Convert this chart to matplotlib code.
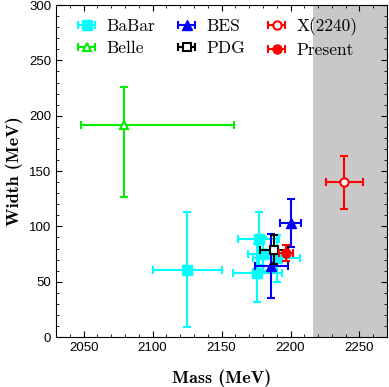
import numpy as np
import matplotlib
matplotlib.use("Agg")
import matplotlib.pyplot as plt

# BaBar
babar_mass = [2125, 2177, 2176, 2180, 2190]
babar_mass_err = [25, 15, 18, 11, 17]
babar_width = [61, 89, 58, 75, 71]
babar_width_err = [52, 24, 26, 15, 21]

# Belle (asymmetric errors)
belle_mass = [2079]
belle_mass_err = [[31], [80]]
belle_width = [192]
belle_width_err = [[65], [34]]

# BES
bes_mass = [2186, 2200]
bes_mass_err = [12, 7.5]
bes_width = [64, 103]
bes_width_err = [29, 22]

# PDG
pdg_mass = [2188]
pdg_mass_err = [10]
pdg_width = [79]
pdg_width_err = [13]

# Present
present_mass = [2197]
present_mass_err = [5]
present_width = [76]
present_width_err = [7]

# X(2240)
x_mass = [2239]
x_mass_err = [13.5]
x_width = [140]
x_width_err = [24]

band_start = 2216

fig = plt.figure(figsize=(3.89, 3.87), dpi=100)
ax = fig.add_axes([0.144, 0.129, 0.851, 0.858])

ax.axvspan(band_start, 2280, color="#c8c8c8", lw=0, zorder=0)

cyan = "#00ffff"
green = "#00ee00"
blue = "#0000ff"
red = "#ff0000"

common = dict(elinewidth=1.5, capsize=3, capthick=1.5, ls="none")

ax.errorbar(babar_mass, babar_width, xerr=babar_mass_err, yerr=babar_width_err,
            fmt="s", color=cyan, ms=7.5, zorder=2, **common)
ax.errorbar(belle_mass, belle_width, xerr=belle_mass_err, yerr=belle_width_err,
            fmt="^", color=green, mfc="white", mec=green, mew=1.5, ms=6, zorder=2, **common)
ax.errorbar(bes_mass, bes_width, xerr=bes_mass_err, yerr=bes_width_err,
            fmt="^", color=blue, ms=6.5, zorder=3, **common)
ax.errorbar(pdg_mass, pdg_width, xerr=pdg_mass_err, yerr=pdg_width_err,
            fmt="s", color="black", mfc="white", mec="black", mew=1.5, ms=6, zorder=4, **common)
ax.errorbar(present_mass, present_width, xerr=present_mass_err, yerr=present_width_err,
            fmt="o", color=red, ms=6.5, zorder=5, **common)
ax.errorbar(x_mass, x_width, xerr=x_mass_err, yerr=x_width_err,
            fmt="o", color=red, mfc="white", mec=red, mew=1.5, ms=6, zorder=5, **common)

# legend proxies with horizontal bars only
h_babar = ax.errorbar(np.nan, np.nan, xerr=1, fmt="s", color=cyan, ms=7.5, **common)
h_belle = ax.errorbar(np.nan, np.nan, xerr=1, fmt="^", color=green, mfc="white", mec=green, mew=1.5, ms=6, **common)
h_bes = ax.errorbar(np.nan, np.nan, xerr=1, fmt="^", color=blue, ms=6.5, **common)
h_pdg = ax.errorbar(np.nan, np.nan, xerr=1, fmt="s", color="black", mfc="white", mec="black", mew=1.5, ms=6, **common)
h_x = ax.errorbar(np.nan, np.nan, xerr=1, fmt="o", color=red, mfc="white", mec=red, mew=1.5, ms=6, **common)
h_pres = ax.errorbar(np.nan, np.nan, xerr=1, fmt="o", color=red, ms=6.5, **common)

ax.legend([h_babar, h_belle, h_bes, h_pdg, h_x, h_pres],
          ["BaBar", "Belle", "BES", "PDG", "X(2240)", "Present"],
          ncol=3, loc="upper left", frameon=False, handlelength=1.3,
          handletextpad=0.5, columnspacing=1.15, labelspacing=0.4,
          borderaxespad=0.3, prop={"family": "cmr10", "size": 12.5},
          bbox_to_anchor=(0.022, 1.0))

ax.set_xlim(2030, 2270)
ax.set_ylim(0, 300)
ax.set_xticks(np.arange(2050, 2251, 50))
ax.set_xticks(np.arange(2030, 2271, 10), minor=True)
ax.set_yticks(np.arange(0, 301, 50))
ax.set_yticks(np.arange(0, 301, 10), minor=True)
ax.tick_params(which="both", direction="in", top=True, right=True)
ax.tick_params(which="major", length=4, labelsize=9.5)
ax.tick_params(which="minor", length=2)
for lab in ax.get_xticklabels() + ax.get_yticklabels():
    lab.set_family("Liberation Sans")

ax.set_xlabel("Mass (MeV)", family="cmb10", fontsize=13, labelpad=11)
ax.set_ylabel("Width (MeV)", family="cmb10", fontsize=13, labelpad=4)

fig.savefig("out.png", dpi=100)
